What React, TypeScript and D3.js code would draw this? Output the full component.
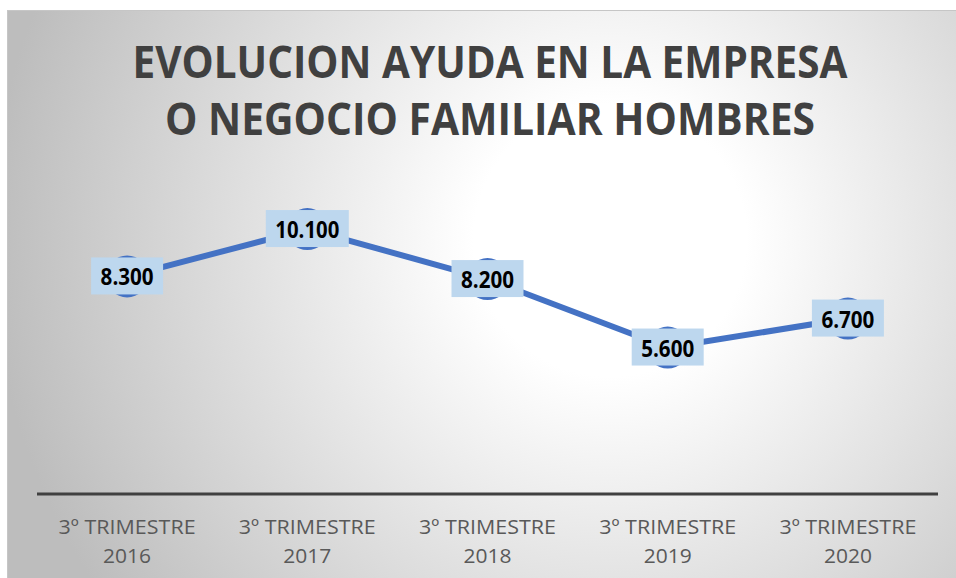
import React from "react";
import * as d3 from "d3";

const categoriesTop = ["3º TRIMESTRE", "3º TRIMESTRE", "3º TRIMESTRE", "3º TRIMESTRE", "3º TRIMESTRE"];
const categoriesBottom = ["2016", "2017", "2018", "2019", "2020"];
const values = [8300, 10100, 8200, 5600, 6700];
const valueLabels = ["8.300", "10.100", "8.200", "5.600", "6.700"];
const titleLines = ["EVOLUCION AYUDA EN LA EMPRESA", "O NEGOCIO FAMILIAR HOMBRES"];

const W = 956;
const H = 578;

export default function App() {
  const x = d3
    .scaleBand<number>()
    .domain(values.map((_, i) => i))
    .range([37, 938]);
  const y = d3.scaleLinear().domain([0, 12000]).range([495, 179]);
  const line = d3
    .line<number>()
    .x((_, i) => (x(i) as number) + x.bandwidth() / 2)
    .y((d) => y(d));

  return (
    <svg
      width={W}
      height={H}
      style={{ position: "absolute", left: 0, top: 0, display: "block" }}
    >
      <defs>
        <radialGradient id="bg" gradientUnits="userSpaceOnUse" cx={610} cy={240} r={620}>
          <stop offset="0" stopColor="#ffffff" />
          <stop offset="0.22" stopColor="#ffffff" />
          <stop offset="1" stopColor="#bdbdbd" />
        </radialGradient>
      </defs>
      <rect x={0} y={0} width={W} height={H} fill="#ffffff" />
      <rect x={7.5} y={10.5} width={W} height={H} fill="url(#bg)" stroke="#c6c6c6" strokeWidth={1} />
      {titleLines.map((t, i) => (
        <text
          key={i}
          x={490}
          y={78 + i * 57}
          textAnchor="middle"
          fontFamily="'Open Sans', sans-serif"
          fontWeight={700}
          fontSize={45}
          fill="#404040"
          textLength={i === 0 ? 715 : 650}
          lengthAdjust="spacingAndGlyphs"
        >
          {t}
        </text>
      ))}
      <line x1={37} x2={938} y1={y(0) - 1} y2={y(0) - 1} stroke="#404040" strokeWidth={3} />
      {values.map((_, i) => {
        const cx = (x(i) as number) + x.bandwidth() / 2;
        return (
          <g key={i} fontFamily="'Open Sans', sans-serif" fontSize={20} fill="#595959" textAnchor="middle">
            <text x={cx} y={534} textLength={137} lengthAdjust="spacingAndGlyphs">{categoriesTop[i]}</text>
            <text x={cx} y={563} textLength={48} lengthAdjust="spacingAndGlyphs">{categoriesBottom[i]}</text>
          </g>
        );
      })}
      <path d={line(values) || ""} fill="none" stroke="#4472C4" strokeWidth={6} strokeLinejoin="round" />
      {values.map((v, i) => {
        const cx = (x(i) as number) + x.bandwidth() / 2;
        return <circle key={i} cx={cx} cy={y(v)} r={21} fill="#4472C4" />;
      })}
      {values.map((v, i) => {
        const cx = (x(i) as number) + x.bandwidth() / 2;
        const lbl = valueLabels[i];
        const w = lbl.length === 6 ? 83 : 72;
        const tw = lbl.length === 6 ? 64 : 53;
        return (
          <g key={i}>
            <rect x={cx - w / 2} y={y(v) - 19} width={w} height={37} fill="#BDD7EE" />
            <text
              x={cx}
              y={y(v) + 9}
              textAnchor="middle"
              fontFamily="'Open Sans', sans-serif"
              fontWeight={700}
              fontSize={24}
              fill="#000000"
              textLength={tw}
              lengthAdjust="spacingAndGlyphs"
            >
              {lbl}
            </text>
          </g>
        );
      })}
    </svg>
  );
}
